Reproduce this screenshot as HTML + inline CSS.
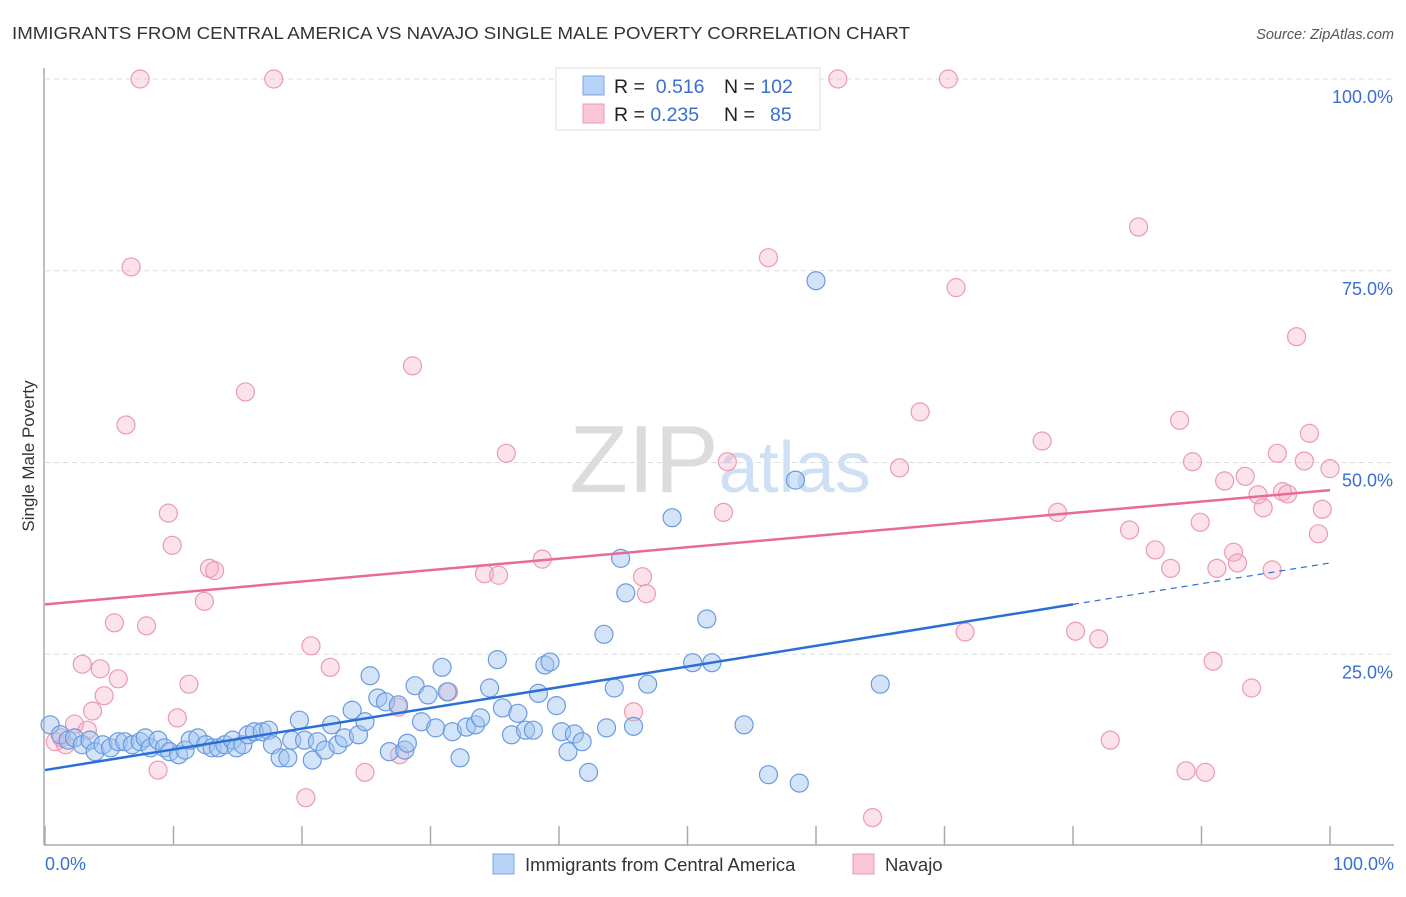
<!DOCTYPE html>
<html><head><meta charset="utf-8"><style>
body{margin:0;background:#fff;font-family:"Liberation Sans",sans-serif}
svg text{font-family:"Liberation Sans",sans-serif}
</style></head><body>
<svg width="1406" height="892" viewBox="0 0 1406 892">
<text x="12" y="39" font-size="17.5" fill="#333" textLength="898" lengthAdjust="spacingAndGlyphs">IMMIGRANTS FROM CENTRAL AMERICA VS NAVAJO SINGLE MALE POVERTY CORRELATION CHART</text>
<text x="1394" y="39" font-size="14.5" fill="#555" text-anchor="end" font-style="italic">Source: ZipAtlas.com</text>
<text x="34" y="456" font-size="17" fill="#333" text-anchor="middle" transform="rotate(-90 34 456)">Single Male Poverty</text>
<g id="grid"></g>
<text x="720" y="492" font-size="96" fill="#ddd" text-anchor="middle" font-family="Liberation Serif"><tspan fill="#dcdcdc">ZIP</tspan><tspan fill="#cfe0f4" font-family="Liberation Sans" font-size="72">atlas</tspan></text>
<line x1="44" y1="68" x2="44" y2="845" stroke="#aaa" stroke-width="1.5"/>
<line x1="44" y1="845" x2="1394" y2="845" stroke="#aaa" stroke-width="1.5"/>
<g id="pts"></g>
<g id="lines"></g>
<text x="45" y="870" font-size="18" fill="#3a6fd0">0.0%</text>
<text x="1394" y="870" font-size="18" fill="#3a6fd0" text-anchor="end">100.0%</text>
<g>
<rect x="556" y="68" width="264" height="62" fill="#fff" stroke="#ddd"/>
<rect x="583" y="76" width="21" height="19" fill="#b8d3f5" stroke="#7aa6e6"/>
<rect x="583" y="104" width="21" height="19" fill="#f9c6d5" stroke="#ec9ab4"/>
<text x="614" y="93" font-size="19.5" fill="#222">R = <tspan fill="#3a6fd0">&#160;0.516</tspan><tspan x="724">N = </tspan><tspan fill="#3a6fd0">102</tspan></text>
<text x="614" y="121" font-size="19.5" fill="#222">R = <tspan fill="#3a6fd0">0.235</tspan><tspan x="724">N = </tspan><tspan fill="#3a6fd0" x="770">85</tspan></text>
</g>
<g>
<rect x="493" y="854" width="21" height="20" fill="#b8d3f5" stroke="#7aa6e6"/>
<text x="525" y="871" font-size="18.5" fill="#333">Immigrants from Central America</text>
<rect x="853" y="854" width="21" height="20" fill="#f9c6d5" stroke="#ec9ab4"/>
<text x="885" y="871" font-size="18.5" fill="#333">Navajo</text>
</g>
</svg>
<script>
const yTicks=[25,50,75,100];
const yTickLabels=["25.0%","50.0%","75.0%","100.0%"];
const xTicks=[0,10,20,30,40,50,60,70,80,90,100];
const blueX=[0.4,1.2,1.8,2.3,2.9,3.5,3.9,4.5,5.1,5.7,6.2,6.8,7.4,7.8,8.2,8.8,9.3,9.7,10.4,10.9,11.3,11.9,12.5,13.0,13.5,14.0,14.6,14.9,15.4,15.8,16.3,16.9,17.4,17.7,18.3,18.9,19.2,19.8,20.2,20.8,21.2,21.8,22.3,22.8,23.3,23.9,24.4,24.9,25.3,25.9,26.5,26.8,27.5,28.0,28.2,28.8,29.3,29.8,30.4,30.9,31.3,31.7,32.3,32.8,33.5,33.9,34.6,35.2,35.6,36.3,36.8,37.4,38.0,38.4,38.9,39.3,39.8,40.2,40.7,41.2,41.8,42.3,43.5,43.7,44.3,44.8,45.2,45.8,46.9,48.8,50.4,51.5,51.9,54.4,56.3,58.4,58.7,60.0,65.0];
const blueY=[15.8,14.5,13.8,14.1,13.2,13.8,12.3,13.2,12.8,13.6,13.6,13.2,13.6,14.1,12.8,13.8,12.8,12.3,11.9,12.5,13.8,14.1,13.2,12.8,12.8,13.2,13.8,12.8,13.2,14.5,14.9,14.9,15.1,13.2,11.5,11.5,13.8,16.4,13.8,11.2,13.6,12.5,15.8,13.2,14.1,17.7,14.5,16.2,22.2,19.3,18.8,12.3,18.4,12.5,13.4,20.9,16.2,19.7,15.4,23.3,20.1,14.9,11.5,15.5,15.8,16.7,20.6,24.3,18.0,14.5,17.3,15.1,15.1,19.9,23.6,24.0,18.3,14.9,12.3,14.6,13.6,9.6,27.6,15.4,20.6,37.5,33.0,15.6,21.1,42.8,23.9,29.6,23.9,15.8,9.3,47.7,8.2,73.7,21.1];
const pinkX=[7.4,17.8,40.5,61.7,70.3,6.7,56.3,85.1,70.9,28.6,97.4,15.6,6.3,68.1,88.3,77.6,98.4,35.9,53.1,66.5,89.3,95.9,98.0,100,93.4,91.8,94.4,96.3,96.7,94.8,99.4,9.6,52.8,78.8,89.9,84.4,99.1,9.9,86.4,92.5,38.7,92.8,12.8,13.2,87.6,91.2,95.5,34.2,35.3,46.5,46.8,12.4,5.4,7.9,71.6,80.2,82.0,20.7,2.9,4.3,22.2,5.7,90.9,11.2,4.6,93.9,3.7,10.3,2.3,3.3,27.5,31.4,45.8,82.9,8.8,24.9,88.8,90.3,20.3,64.4,27.6,0.8,1.6,1.3];
const pinkY=[100,100,100,100,100,75.5,76.7,80.7,72.8,62.6,66.4,59.2,54.9,56.6,55.5,52.8,53.8,51.2,50.1,49.3,50.1,51.2,50.2,49.2,48.2,47.6,45.8,46.2,45.9,44.1,43.9,43.4,43.5,43.5,42.2,41.2,40.7,39.2,38.6,38.3,37.4,36.9,36.2,35.9,36.2,36.2,36.0,35.5,35.3,35.1,32.9,31.9,29.1,28.7,27.9,28.0,27.0,26.1,23.7,23.1,23.3,21.8,24.1,21.1,19.6,20.6,17.6,16.7,15.9,15.1,18.1,20.1,17.5,13.8,9.9,9.6,9.8,9.6,6.3,3.7,11.9,13.6,13.2,14.1];
const blueFit=[9.9,31.5,36.9];
const pinkFit=[31.5,46.4];
const sx=v=>45+v*12.85, sy=v=>846-v*7.67;
const NS="http://www.w3.org/2000/svg";
function mk(tag,attrs,parent){const e=document.createElementNS(NS,tag);for(const k in attrs)e.setAttribute(k,attrs[k]);parent.appendChild(e);return e;}
const grid=document.getElementById('grid');
yTicks.forEach((t,i)=>{
 const g=mk('line',{x1:45,x2:1394,y1:sy(t),y2:sy(t),stroke:'#ddd','stroke-dasharray':'5,4'},grid);
 
 
 const tx=mk('text',{x:1393,y:sy(t)+24,'font-size':18,fill:'#3a6fd0','text-anchor':'end'},grid);
 tx.textContent=yTickLabels[i];
 
 
});
xTicks.forEach(t=>{
 const l=mk('line',{x1:sx(t),x2:sx(t),y1:826,y2:845,stroke:'#aaa','stroke-width':1.5},grid);
 
 
});
const pts=document.getElementById('pts');
pinkX.forEach((x,i)=>{
 const c=mk('circle',{cx:sx(x),cy:sy(pinkY[i]),r:9,fill:'rgba(246,172,196,0.35)',stroke:'#ec9ab4','stroke-width':1.2},pts);
 
 
});
blueX.forEach((x,i)=>{
 const c=mk('circle',{cx:sx(x),cy:sy(blueY[i]),r:9,fill:'rgba(160,196,240,0.45)',stroke:'#6a9be0','stroke-width':1.2},pts);
 
 
});
const lines=document.getElementById('lines');
const b1=mk('line',{x1:sx(0),y1:sy(blueFit[0]),x2:sx(80),y2:sy(blueFit[1]),stroke:'#2a6fd6','stroke-width':2.5},lines);


const b2=mk('line',{x1:sx(80),y1:sy(blueFit[1]),x2:sx(100),y2:sy(blueFit[2]),stroke:'#2a6fd6','stroke-width':1.2,'stroke-dasharray':'6,5'},lines);


const p1=mk('line',{x1:sx(0),y1:sy(pinkFit[0]),x2:sx(100),y2:sy(pinkFit[1]),stroke:'#e8699a','stroke-width':2.5},lines);


</script>
</body></html>
